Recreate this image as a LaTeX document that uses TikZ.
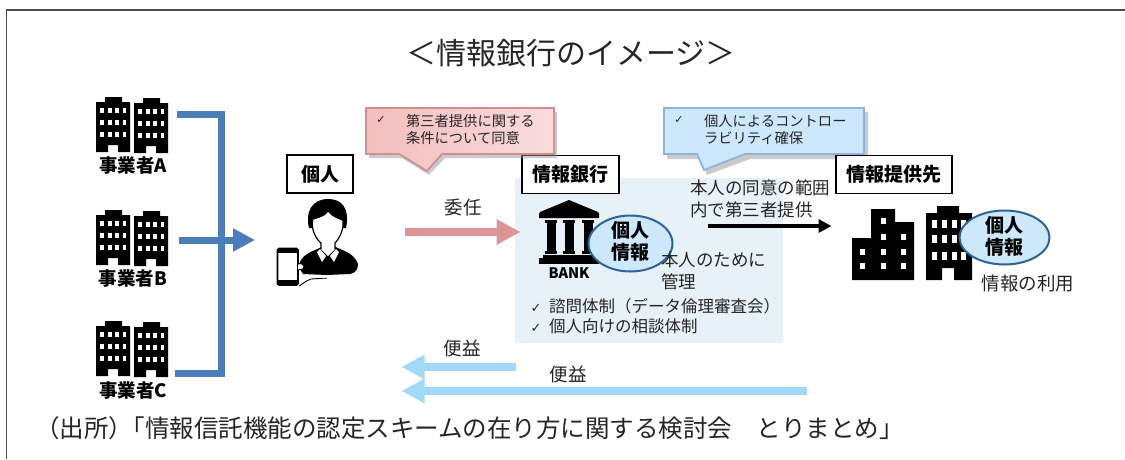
\documentclass[tikz,border=0pt]{standalone}
\usepackage{fontspec}
\setmainfont{Noto Sans CJK JP}
\newfontfamily\symfont{DejaVu Sans}
\usetikzlibrary{arrows.meta,shapes.geometric}
\definecolor{bluebar}{HTML}{4A7EBB}
\definecolor{pinkbar}{HTML}{DB9595}
\definecolor{skybar}{HTML}{A2D8F8}
\definecolor{panel}{HTML}{E6F2F8}
\definecolor{calloutblue}{HTML}{CCE8FA}
\definecolor{calloutblueline}{HTML}{8FB4DB}
\definecolor{calloutpinkline}{HTML}{D08F8F}
\definecolor{pinkleft}{HTML}{F3BDBD}
\definecolor{pinkright}{HTML}{F8DCDC}
\definecolor{ovalline}{HTML}{2F6296}
\definecolor{txt}{HTML}{262626}
\tikzset{
  x=1pt,y=-1pt,
  every node/.style={inner sep=0pt,outer sep=0pt,text=txt,align=left},
  titlebox/.style={draw=black,line width=1.5pt,fill=white,font=\fontsize{19}{22}\selectfont\bfseries,text=black,align=center},
  oval/.style={ellipse,draw=ovalline,line width=2pt,fill=calloutblue},
  ovaltext/.style={font=\fontsize{19}{22}\selectfont\bfseries,text=black,align=center},
  biglabel/.style={font=\fontsize{17.5}{22}\selectfont},
  smalllabel/.style={font=\fontsize{18.5}{22}\selectfont},
  calltext/.style={font=\fontsize{14.3}{17.5}\selectfont},
  callcheck/.style={font=\fontsize{11}{12}\selectfont\symfont},
  firm/.style={font=\fontsize{18.5}{20}\selectfont\bfseries,text=black},
  blockarrow/.style={-{Triangle[length=24pt,width=24pt]},line width=8.5pt},
  thinarrow/.style={-{Triangle[length=13pt,width=13pt]},line width=3.2pt,black},
  callshadow/.style={fill=black!40,opacity=.5},
}
\newcommand{\tower}[2]{%
 \begin{scope}[shift={(#1,#2)}]
  \fill[black] (0,5) -- (9,5) -- (9,0) -- (26,0) -- (26,5) -- (34,5) -- (34,55) -- (22,55) -- (22,48) -- (12,48) -- (12,55) -- (0,55) -- cycle;
  \foreach \yy in {11,23,35}\foreach \xx in {4,12,19,26.5}{\fill[white] (\xx,\yy) rectangle ++(3.5,5);}
 \end{scope}}
\newcommand{\pair}[2]{\tower{#1}{#2}\tower{#1+38}{#2+1}}
\newcommand{\chk}{\makebox[18.5pt][l]{\symfont\fontsize{13}{19}\selectfont ✓}}
\begin{document}
\begin{tikzpicture}
\useasboundingbox (0,0) rectangle (1125,459);
\fill[white] (0,0) rectangle (1125,459);
\coordinate (fb) at (6.5,459); \coordinate (ftl) at (6.5,10); \coordinate (ftr) at (1125,10);
\draw[black!70,line width=1.1pt] (fb) -- (ftl) -- (ftr);
\node (title) at (571,53) {\fontsize{30}{34}\selectfont ＜情報銀行のイメージ＞};
% firms
\pair{96}{97}\pair{96}{210}\pair{96}{321}
\node[firm] (fa) at (133,165) {事業者A};
\node[firm] (fb2) at (133,278) {事業者B};
\node[firm] (fc) at (133,390) {事業者C};
\coordinate (a1) at (177,114); \coordinate (a2) at (221,114);
\coordinate (c1) at (175,373.5); \coordinate (c2) at (221,373.5);
\coordinate (b1) at (179,240); \coordinate (b2) at (255,240);
\draw[bluebar,line width=7pt] (a1) -- (a2) -- (c2) -- (c1);
\draw[bluebar,line width=7pt,-{Triangle[length=22pt,width=22pt]}] (b1) -- (b2);
% person
\node[titlebox,minimum width=66pt,minimum height=38pt] (kojin) at (320,174) {個人};
\begin{scope}
 \fill[black] (300,262) .. controls (304,252) and (318,250) .. (323,246) -- (334,246) .. controls (340,250) and (354,252) .. (358,264) .. controls (358,270) and (355,273) .. (350,274) -- (327,275) -- (303,274) .. controls (300,270) and (299,266) .. (300,262) -- cycle;
 \fill[black] (309,228) .. controls (305,212) and (312,199) .. (328,199) .. controls (342,199) and (350,208) .. (346,228) -- cycle;
 \fill[white] (312.5,220) .. controls (318,218) and (325,217) .. (328,212) .. controls (332,217) and (338,219) .. (343,221) .. controls (344,231) and (338,240) .. (335,243) -- (335,249) -- (328,256) -- (321,249) -- (321,243) .. controls (317,240) and (311,231) .. (312.5,220) -- cycle;
 \draw[black,line width=1.2pt] (312.5,220) .. controls (311,231) and (317,240) .. (321,243) -- (321,249);
 \draw[black,line width=1.2pt] (343,221) .. controls (344,231) and (338,240) .. (335,243) -- (335,249);
 \fill[white] (320,249) -- (326,256) -- (322,262) -- (317,252) -- cycle;
 \fill[white] (336,249) -- (330,256) -- (334,262) -- (339,252) -- cycle;
 \draw[black,line width=.9pt] (299,286) .. controls (303,284) and (305,281) .. (311,279) -- (327,278);
 \fill[white] (303,275) -- (327,275.5) -- (327,277.5) -- (310,278) .. controls (305,280) and (303,282) .. (300,283) -- cycle;
 \draw[black,line width=1.6pt,rounded corners=1.5pt,fill=white] (277.5,248.5) rectangle (298,285);
 \fill[black] (277,249) rectangle (298,252.5); \fill[black] (277,280) rectangle (298,285);
 \draw[black,line width=1pt,fill=white] (298,264) .. controls (302,262) and (306,266) .. (303,269) -- (298,270);
\end{scope}
% panel
\fill[panel] (515,178) rectangle (783,343);
\node[titlebox,minimum width=97pt,minimum height=38pt] (bank) at (570.5,174.5) {情報銀行};
% callouts
\path[callshadow] (369,112) -- (557,112) -- (557,158) -- (445,158) -- (429,175) -- (402,158) -- (369,158) -- cycle;
\shade[left color=pinkleft,right color=pinkright,draw=calloutpinkline,line width=1.8pt] (366,108) -- (554,108) -- (554,154) -- (442,154) -- (427,171) -- (399,154) -- (366,154) -- cycle;
\node[callcheck] (c1a) at (381,120) {✓};
\node[anchor=west,calltext] (c1b) at (406,129.5) {第三者提供に関する\\条件について同意};
\path[callshadow] (667,112) -- (868,112) -- (868,159) -- (750,159) -- (707,175) -- (701,159) -- (667,159) -- cycle;
\path[fill=calloutblue,draw=calloutblueline,line width=1.8pt] (664,108) -- (864,108) -- (864,154) -- (745,154) -- (704,170) -- (697,154) -- (664,154) -- cycle;
\node[callcheck] (c2a) at (679,120) {✓};
\node[anchor=west,calltext] (c2b) at (704,129.5) {個人によるコントロー\\ラビリティ確保};
% entrust
\node[smalllabel] (ininl) at (463,207) {委任};
\coordinate (p1) at (405,232); \node (bankicon) at (521,232) {};
\draw[pinkbar,blockarrow] (p1) -- (bankicon);
% bank icon
\begin{scope}
 \fill[black] (569,200) -- (598,212) -- (599,214) -- (599,218) -- (539,218) -- (539,214) -- (540,212) -- cycle;
 \foreach \xx in {545,563,582}{\fill[black] (\xx,220) rectangle (\xx+12,223); \fill[black] (\xx+1.5,222) rectangle (\xx+10.5,252); \fill[black] (\xx,251) rectangle (\xx+12,254);}
 \fill[black] (543,255) rectangle (595,258);
 \fill[black] (539,258) rectangle (599,264);
 \node[font=\fontsize{14.5}{16}\selectfont\bfseries,text=black] (banktxt) at (569,273) {BANK};
\end{scope}
\node[oval,minimum width=84pt,minimum height=56pt] (oval1) at (630.5,243.5) {};
\node[ovaltext] (ovt1) at (630,241) {個人\\情報};
\node[biglabel,anchor=west] (mgmt) at (661,271) {本人のために\\管理};
\node[font=\fontsize{16.5}{19.5}\selectfont,anchor=west] (chklist) at (530.5,316) {\chk 諮問体制（データ倫理審査会）\\\chk 個人向けの相談体制};
% provision
\node[biglabel,anchor=west] (prov) at (690,199) {本人の同意の範囲\\内で第三者提供};
\coordinate (t1) at (708,226); \node (firmx) at (832,226) {};
\draw[thinarrow] (t1) -- (firmx);
\node[titlebox,minimum width=116pt,minimum height=38pt] (saki) at (894,174.5) {情報提供先};
% provider buildings
\begin{scope}
 \fill[black] (852,238) -- (871,238) -- (871,209) -- (895,209) -- (895,222) -- (914,222) -- (914,280) -- (852,280) -- cycle;
 \foreach \xx/\yy in {881/218,881/234,901/234,860/249,881/249,901/249,860/263,881/263,901/263}{\fill[white] (\xx,\yy) rectangle ++(5,6);}
 \fill[black] (926,213) -- (937,213) -- (937,206) -- (959,206) -- (959,213) -- (972,213) -- (972,280) -- (954,280) -- (954,268) -- (942,268) -- (942,280) -- (926,280) -- cycle;
 \foreach \yy in {220,235,252}\foreach \xx in {932,942,951.5,961}{\fill[white] (\xx,\yy) rectangle ++(5,7.5);}
\end{scope}
\node[oval,minimum width=90pt,minimum height=54pt] (oval2) at (1004.5,237.5) {};
\node[ovaltext] (ovt2) at (1004,236) {個人\\情報};
\node[smalllabel] (riyou) at (1028,284) {情報の利用};
% benefit
\node[smalllabel] (b1l) at (462,348) {便益};
\node[smalllabel] (b2l) at (568,374) {便益};
\coordinate (s1) at (516,367); \node (h1) at (401,367) {};
\coordinate (s2) at (807,391); \node (h2) at (401,391) {};
\draw[skybar,line width=8pt,-{Triangle[length=23pt,width=23pt]}] (s1) -- (h1);
\draw[skybar,line width=8pt,-{Triangle[length=23pt,width=23pt]}] (s2) -- (h2);
\node[anchor=west] (src) at (35,428.5) {\fontsize{24.5}{28}\selectfont （出所）\hspace{-12.5pt}「情報信託機能の認定スキームの在り方に関する検討会　とりまとめ」};
\end{tikzpicture}
\end{document}
